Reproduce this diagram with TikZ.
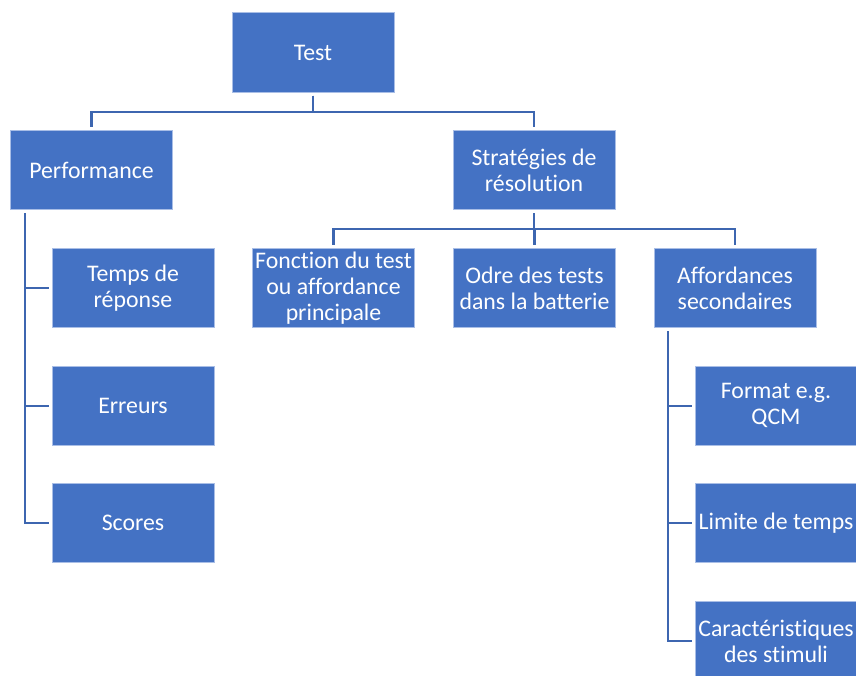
\documentclass[tikz,border=0pt]{standalone}
\usepackage{fontspec}
\setmainfont{Carlito}[Ligatures=NoCommon]
\definecolor{boxblue}{HTML}{4472C4}
\definecolor{lineblue}{HTML}{3D66B0}
\definecolor{edgeblue}{HTML}{A9BEE6}
\begin{document}
\begin{tikzpicture}[x=1pt,y=-1pt,
  box/.style={rectangle, fill=boxblue, draw=edgeblue, line width=0.8pt,
    minimum width=162pt, minimum height=79.5pt, inner sep=0pt,
    text=white, align=center,
    font=\fontsize{23.8pt}{25.8pt}\selectfont\frenchspacing},
  conn/.style={draw=lineblue, line width=2.4pt, shorten <=3pt, shorten >=3pt}]
\useasboundingbox (0,0) rectangle (856,675);
% nodes
\node[box] (test)   at (313,52.5)  {Test};
\node[box] (perf)   at (91.5,170)  {Performance};
\node[box] (strat)  at (534,170)   {Stratégies de\\résolution};
\node[box] (temps)  at (133,288)   {Temps de\\réponse};
\node[box] (fonc)   at (333.5,288) {Fonction du test\\ou affordance\\principale};
\node[box] (odre)   at (534.5,288) {Odre des tests\\dans la batterie};
\node[box] (aff)    at (735,288)   {Affordances\\secondaires};
\node[box] (err)    at (133,405.7) {Erreurs};
\node[box] (scores) at (133,523)   {Scores};
\node[box] (format) at (776,405.7) {Format e.g.\\QCM};
\node[box] (limite) at (776,523)   {Limite de temps};
\node[box] (carac)  at (776,641)   {Caractéristiques\\des stimuli};
% connectors
\draw[conn] (test.south) -- ++(0,19.5) -| (perf.north);
\draw[conn] (test.south) -- ++(0,19.5) -| (strat.north);
\draw[conn] (strat.south) -- ++(0,19) -| (fonc.north);
\draw[conn] (strat.south) -- ++(0,19) -| (odre.north);
\draw[conn] (strat.south) -- ++(0,19) -| (aff.north);
\draw[conn] ([xshift=15pt]perf.south west) |- (temps.west);
\draw[conn] ([xshift=15pt]perf.south west) |- (err.west);
\draw[conn] ([xshift=15pt]perf.south west) |- (scores.west);
\draw[conn] ([xshift=14.6pt]aff.south west) |- (format.west);
\draw[conn] ([xshift=14.6pt]aff.south west) |- (limite.west);
\draw[conn] ([xshift=14.6pt]aff.south west) |- (carac.west);
\end{tikzpicture}
\end{document}
